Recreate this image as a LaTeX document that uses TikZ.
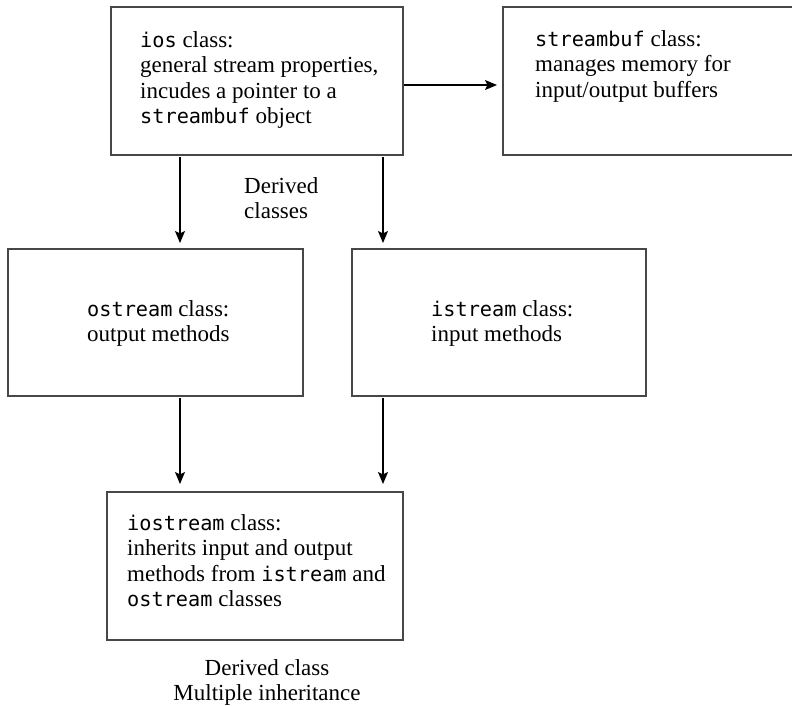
\documentclass[tikz,border=0pt]{standalone}
\usepackage{fontspec}
\setmainfont{Liberation Serif}
\newfontfamily\codefont[Scale=0.88]{DejaVu Sans Mono}
\newcommand\cd[1]{{\codefont #1}}
\usetikzlibrary{arrows.meta}
\tikzset{
  box/.style={draw=black!72, line width=2pt, inner sep=0pt, fill=white},
  txt/.style={inner sep=0pt, font=\fontsize{23}{25.5}\selectfont, align=left},
  arr/.style={draw=black, line width=1.1pt, -{Stealth[length=12pt,width=10pt,inset=2.5pt]}},
}
\begin{document}
\begin{tikzpicture}[x=1pt,y=-1pt]
\clip (0,0) rectangle (792,705);
\fill[white] (0,0) rectangle (792,705);
% boxes
\node[box, minimum width=292pt, minimum height=148pt] (ios) at (257,81) {};
\node[box, minimum width=297pt, minimum height=148pt] (sb) at (651.5,81) {};
\node[box, minimum width=295pt, minimum height=147pt] (ost) at (155.5,322.5) {};
\node[box, minimum width=294pt, minimum height=147pt] (ist) at (499,322.5) {};
\node[box, minimum width=296pt, minimum height=148pt] (iost) at (255,566) {};
% texts
\node[txt, anchor=north west] (iostxt) at (140,31) {\cd{ios} class:\\general stream properties,\\incudes a pointer to a\\\cd{streambuf} object};
\node[txt, anchor=north west] (sbtxt) at (535,30) {\cd{streambuf} class:\\manages memory for\\input/output buffers};
\node[txt, anchor=north west] (osttxt) at (87,300) {\cd{ostream} class:\\output methods};
\node[txt, anchor=north west] (isttxt) at (431,300) {\cd{istream} class:\\input methods};
\node[txt, anchor=north west] (iosttxt) at (127,514) {\cd{iostream} class:\\inherits input and output\\methods from \cd{istream} and\\\cd{ostream} classes};
\node[txt, anchor=north west] (dcs) at (244,177) {Derived\\classes};
\node[txt, anchor=north, align=center] (dmi) at (267,659) {Derived class\\Multiple inheritance};
% connector columns
\coordinate (cl) at (180,0);
\coordinate (cr) at (383,0);
% arrows
\draw[arr, shorten >=5pt] ([yshift=-4pt]ios.east) -- ([yshift=-4pt]sb.west);
\draw[arr, shorten <=1pt, shorten >=5pt] (ios.south -| cl) -- (ost.north -| cl);
\draw[arr, shorten <=1pt, shorten >=5pt] (ios.south -| cr) -- (ist.north -| cr);
\draw[arr, shorten <=1pt, shorten >=7pt] (ost.south -| cl) -- (iost.north -| cl);
\draw[arr, shorten <=1pt, shorten >=7pt] (ist.south -| cr) -- (iost.north -| cr);
\end{tikzpicture}
\end{document}
